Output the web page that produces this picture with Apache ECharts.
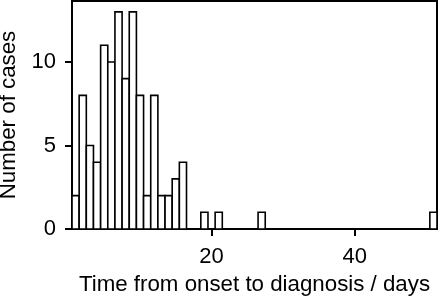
<!DOCTYPE html>
<html>
<head>
<meta charset="utf-8">
<script src="https://cdn.jsdelivr.net/npm/echarts@6/dist/echarts.min.js"></script>
<style>
html,body{margin:0;padding:0;background:#fff;}
#chart{width:440px;height:297px;}
</style>
</head>
<body>
<div id="chart"></div>
<script>
var days = [1,2,3,4,5,6,7,8,9,10,11,12,13,14,15,16,19,21,27,51];
var cases = [2,8,5,4,11,10,13,9,13,8,2,8,2,2,3,4,1,1,1,1];
var xTicks = [20, 40];
var yTicks = [0, 5, 10];
var xLabel = 'Time from onset to diagnosis / days';
var yLabel = 'Number of cases';

var data = days.map(function (d, i) { return [d, cases[i]]; });
var font = 'Liberation Sans, Arial, sans-serif';

var chart = echarts.init(document.getElementById('chart'), null, {renderer: 'canvas'});
chart.setOption({
  animation: false,
  backgroundColor: '#fff',
  grid: {left: 72, right: 3, top: 1, bottom: 68, show: true, borderColor: '#000', borderWidth: 2,
         backgroundColor: 'transparent', containLabel: false, outerBoundsMode: 'none'},
  xAxis: {
    type: 'value', min: 0.5, max: 51.5,
    name: xLabel, nameLocation: 'middle', nameGap: 45,
    nameTextStyle: {fontFamily: font, fontSize: 22.3, color: '#000'},
    axisLine: {show: true, lineStyle: {color: '#000', width: 2}},
    axisTick: {show: true, length: 7, lineStyle: {color: '#000', width: 2}, customValues: xTicks},
    axisLabel: {fontFamily: font, fontSize: 22, color: '#000', margin: 17, customValues: xTicks},
    splitLine: {show: false}
  },
  yAxis: {
    type: 'value', min: 0, max: 13.65,
    name: yLabel, nameLocation: 'middle', nameGap: 52, nameRotate: 90,
    nameTextStyle: {fontFamily: font, fontSize: 22.3, color: '#000'},
    axisLine: {show: true, lineStyle: {color: '#000', width: 2}},
    axisTick: {show: true, length: 7, lineStyle: {color: '#000', width: 2}, customValues: yTicks},
    axisLabel: {fontFamily: font, fontSize: 22, color: '#000', margin: 16, customValues: yTicks},
    splitLine: {show: false}
  },
  series: [{
    type: 'custom',
    data: data,
    renderItem: function (params, api) {
      var x = api.value(0), y = api.value(1);
      var p0 = api.coord([x - 0.5, y]);
      var p1 = api.coord([x + 0.5, 0]);
      return {
        type: 'rect',
        shape: {x: p0[0], y: p0[1], width: p1[0] - p0[0], height: p1[1] - p0[1]},
        style: {fill: '#fff', stroke: '#000', lineWidth: 1.6}
      };
    }
  }]
});
</script>
</body>
</html>
